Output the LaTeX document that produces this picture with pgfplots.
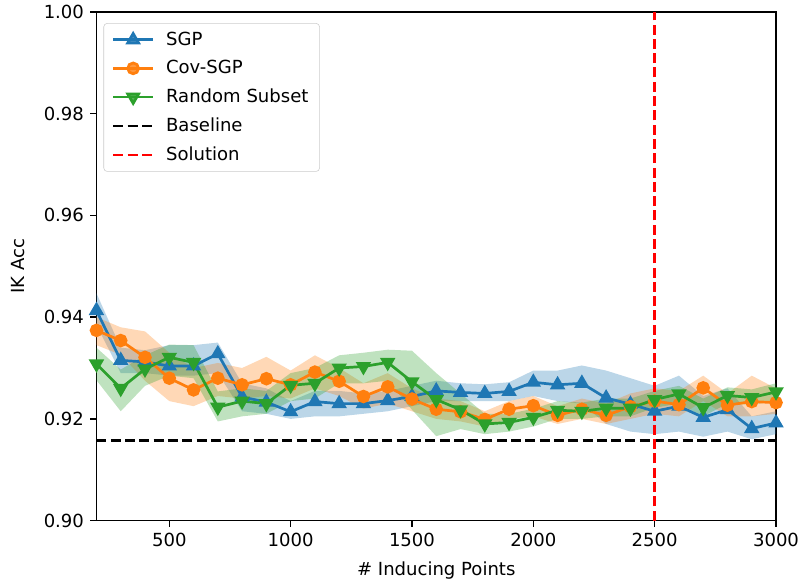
\documentclass[border=0pt]{standalone}
\usepackage{pgfplots}
\pgfplotsset{compat=1.18}
\usepackage{pgfplotstable}
\usepgfplotslibrary{fillbetween}
\usepackage{fontspec}
\setmainfont{DejaVu Sans}
\definecolor{c0}{HTML}{1F77B4}
\definecolor{c1}{HTML}{FF7F0E}
\definecolor{c2}{HTML}{2CA02C}

\pgfplotstableread{
x y lo hi
200 0.9413 0.9385 0.9447
300 0.9315 0.9290 0.9340
400 0.9312 0.9290 0.9335
500 0.9304 0.9285 0.9345
600 0.9304 0.9285 0.9345
700 0.9328 0.9290 0.9350
800 0.9243 0.9215 0.9270
900 0.9233 0.9210 0.9260
1000 0.9214 0.9200 0.9235
1100 0.9234 0.9205 0.9255
1200 0.9230 0.9205 0.9255
1300 0.9230 0.9210 0.9250
1400 0.9236 0.9215 0.9255
1500 0.9244 0.9225 0.9265
1600 0.9255 0.9235 0.9275
1700 0.9252 0.9235 0.9270
1800 0.9250 0.9235 0.9268
1900 0.9254 0.9235 0.9272
2000 0.9272 0.9245 0.9295
2100 0.9267 0.9235 0.9295
2200 0.9270 0.9230 0.9305
2300 0.9241 0.9190 0.9295
2400 0.9229 0.9175 0.9280
2500 0.9215 0.9170 0.9265
2600 0.9225 0.9175 0.9285
2700 0.9203 0.9165 0.9245
2800 0.9218 0.9175 0.9260
2900 0.9181 0.9160 0.9205
3000 0.9192 0.9170 0.9215
}\sgp

\pgfplotstableread{
x y lo hi
200 0.9374 0.9345 0.9400
300 0.9354 0.9326 0.9380
400 0.9321 0.9275 0.9372
500 0.9280 0.9235 0.9330
600 0.9257 0.9225 0.9300
700 0.9280 0.9245 0.9310
800 0.9267 0.9240 0.9300
900 0.9279 0.9245 0.9322
1000 0.9267 0.9240 0.9295
1100 0.9292 0.9260 0.9325
1200 0.9274 0.9245 0.9300
1300 0.9244 0.9220 0.9270
1400 0.9263 0.9230 0.9290
1500 0.9239 0.9215 0.9260
1600 0.9219 0.9200 0.9240
1700 0.9214 0.9195 0.9235
1800 0.9199 0.9185 0.9215
1900 0.9219 0.9200 0.9235
2000 0.9226 0.9205 0.9245
2100 0.9207 0.9190 0.9225
2200 0.9219 0.9200 0.9240
2300 0.9207 0.9190 0.9230
2400 0.9224 0.9200 0.9250
2500 0.9235 0.9210 0.9260
2600 0.9228 0.9205 0.9255
2700 0.9261 0.9235 0.9285
2800 0.9227 0.9205 0.9250
2900 0.9234 0.9205 0.9285
3000 0.9232 0.9210 0.9260
}\cov

\pgfplotstableread{
x y lo hi
200 0.9308 0.9276 0.9340
300 0.9260 0.9215 0.9297
400 0.9298 0.9265 0.9325
500 0.9321 0.9285 0.9346
600 0.9311 0.9280 0.9345
700 0.9223 0.9195 0.9254
800 0.9235 0.9205 0.9260
900 0.9230 0.9210 0.9255
1000 0.9266 0.9235 0.9290
1100 0.9270 0.9240 0.9300
1200 0.9300 0.9270 0.9325
1300 0.9303 0.9270 0.9330
1400 0.9311 0.9275 0.9336
1500 0.9273 0.9218 0.9334
1600 0.9238 0.9166 0.9290
1700 0.9218 0.9180 0.9250
1800 0.9190 0.9170 0.9210
1900 0.9193 0.9175 0.9210
2000 0.9203 0.9185 0.9220
2100 0.9217 0.9200 0.9235
2200 0.9215 0.9200 0.9232
2300 0.9221 0.9205 0.9240
2400 0.9221 0.9205 0.9240
2500 0.9238 0.9222 0.9255
2600 0.9249 0.9230 0.9265
2700 0.9222 0.9205 0.9240
2800 0.9246 0.9230 0.9262
2900 0.9242 0.9228 0.9258
3000 0.9253 0.9235 0.9270
}\rnd

\begin{document}
\fontsize{13}{15.6}\selectfont
\begin{tikzpicture}
\begin{axis}[
  scale only axis,
  width=489.6pt, height=366.5pt,
  xmin=200, xmax=3000, ymin=0.90, ymax=1.00,
  xtick={500,1000,1500,2000,2500,3000},
  ytick={0.90,0.92,0.94,0.96,0.98,1.00},
  /pgf/number format/assume math mode=true,
  /pgf/number format/1000 sep={},
  yticklabel style={/pgf/number format/fixed, /pgf/number format/fixed zerofill, /pgf/number format/precision=2},
  tick label style={font=\fontsize{13}{15.6}\selectfont},
  label style={font=\fontsize{13}{15.6}\selectfont},
  xlabel style={at={(axis description cs:0.5,-0.0982)}, anchor=center},
  ylabel style={at={(axis description cs:-0.1154,0.5)}, anchor=center},
  tick align=outside, tick pos=left,
  major tick length=4.5pt,
  every tick/.style={black, line width=1.04pt},
  axis line style={line width=1.04pt},
  xlabel={\# Inducing Points},
  ylabel={IK Acc},
  legend cell align=left,
  legend style={at={(0.0103,0.978)}, anchor=north west, draw=black!20, rounded corners=2.5pt,
    fill=white, fill opacity=0.8, text opacity=1, font=\fontsize{13}{15.6}\selectfont,
    row sep=5pt, inner xsep=6pt, inner ysep=4pt,
    /tikz/every odd column/.append style={column sep=6.5pt}},
  legend image code/.code={\draw[mark repeat=2,mark phase=2,#1] plot coordinates {(0cm,0cm) (0.5cm,0cm) (1cm,0cm)};},
]
\addplot[c0, line width=1.95pt, mark=triangle*, mark size=4.5pt, mark options={solid}] table[x=x,y=y]{\sgp};
\addlegendentry{SGP}
\addplot[name path=su, draw=none, forget plot] table[x=x,y=hi]{\sgp};
\addplot[name path=sl, draw=none, forget plot] table[x=x,y=lo]{\sgp};
\addplot[fill=c0, fill opacity=0.3, draw=none, forget plot] fill between[of=su and sl];

\addplot[c1, line width=1.95pt, mark=*, mark size=3.9pt, mark options={solid}] table[x=x,y=y]{\cov};
\addlegendentry{Cov-SGP}
\addplot[name path=cu, draw=none, forget plot] table[x=x,y=hi]{\cov};
\addplot[name path=cl, draw=none, forget plot] table[x=x,y=lo]{\cov};
\addplot[fill=c1, fill opacity=0.3, draw=none, forget plot] fill between[of=cu and cl];

\addplot[c2, line width=1.95pt, mark=triangle*, mark size=4.5pt, mark options={solid, rotate=180}] table[x=x,y=y]{\rnd};
\addlegendentry{Random Subset}
\addplot[name path=ru, draw=none, forget plot] table[x=x,y=hi]{\rnd};
\addplot[name path=rl, draw=none, forget plot] table[x=x,y=lo]{\rnd};
\addplot[fill=c2, fill opacity=0.3, draw=none, forget plot] fill between[of=ru and rl];

\addplot[black, line width=1.95pt, dash pattern=on 7.2pt off 3.1pt] coordinates {(200,0.9157) (3000,0.9157)};
\addlegendentry{Baseline}
\addplot[red, line width=1.95pt, dash pattern=on 7.2pt off 3.1pt] coordinates {(2500,0.90) (2500,1.00)};
\addlegendentry{Solution}
\end{axis}
\pgfresetboundingbox
\path ([shift={(-69.5pt,-46.8pt)}]current axis.south west) rectangle ([shift={(18pt,8.6pt)}]current axis.north east);
\end{tikzpicture}
\end{document}
